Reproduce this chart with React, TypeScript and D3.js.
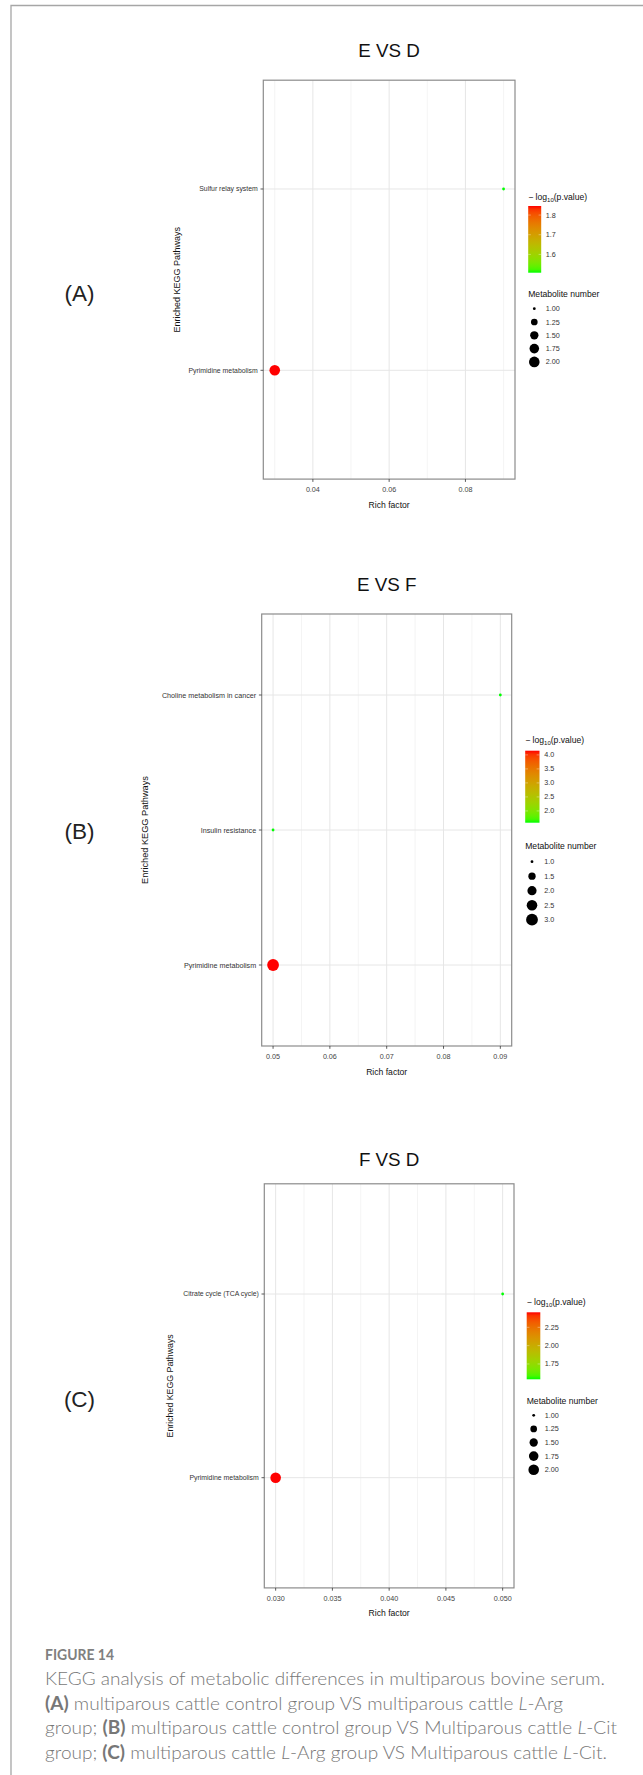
import React from "react";
import * as d3 from "d3";

// ---------------- Data ----------------
const pathwaysA = ["Sulfur relay system", "Pyrimidine metabolism"];
const richFactorA = [0.09, 0.03];
const negLogPA = [1.507, 1.846];
const metaboliteCountA = [1, 2];
const xTicksA = [0.04, 0.06, 0.08];
const xTickLabelsA = ["0.04", "0.06", "0.08"];
const colorTicksA = [1.6, 1.7, 1.8];
const colorTickLabelsA = ["1.6", "1.7", "1.8"];
const sizeBreaksA = [1, 1.25, 1.5, 1.75, 2];
const sizeLabelsA = ["1.00", "1.25", "1.50", "1.75", "2.00"];

const pathwaysB = ["Choline metabolism in cancer", "Insulin resistance", "Pyrimidine metabolism"];
const richFactorB = [0.09, 0.05, 0.05];
const negLogPB = [1.58, 1.58, 4.15];
const metaboliteCountB = [1, 1, 3];
const xTicksB = [0.05, 0.06, 0.07, 0.08, 0.09];
const xTickLabelsB = ["0.05", "0.06", "0.07", "0.08", "0.09"];
const colorTicksB = [2.0, 2.5, 3.0, 3.5, 4.0];
const colorTickLabelsB = ["2.0", "2.5", "3.0", "3.5", "4.0"];
const sizeBreaksB = [1, 1.5, 2, 2.5, 3];
const sizeLabelsB = ["1.0", "1.5", "2.0", "2.5", "3.0"];

const pathwaysC = ["Citrate cycle (TCA cycle)", "Pyrimidine metabolism"];
const richFactorC = [0.05, 0.03];
const negLogPC = [1.541, 2.455];
const metaboliteCountC = [1, 2];
const xTicksC = [0.03, 0.035, 0.04, 0.045, 0.05];
const xTickLabelsC = ["0.030", "0.035", "0.040", "0.045", "0.050"];
const colorTicksC = [1.75, 2.0, 2.25];
const colorTickLabelsC = ["1.75", "2.00", "2.25"];
const sizeBreaksC = [1, 1.25, 1.5, 1.75, 2];
const sizeLabelsC = ["1.00", "1.25", "1.50", "1.75", "2.00"];

const titles = ["E VS D", "E VS F", "F VS D"];
const panelLetters = ["(A)", "(B)", "(C)"];

const FONT = "'Liberation Sans', Arial, Helvetica, sans-serif";
const CAP_FONT = "Lato, 'Open Sans', sans-serif";

type Layout = {
  x0: number; x1: number; y0: number; y1: number;
  titleY: number; ylabX: number; ylabSize: number; catSize: number;
  letterY: number;
  legTitleY: number; barX: number; barW: number; barY0: number; barY1: number;
  sizeTitleY: number; sizeY0: number; sizeStep: number; circX: number; labX: number;
  rmin: number; rmax: number;
};

type PanelProps = {
  id: string;
  title: string;
  letter: string;
  pathways: string[];
  rich: number[];
  negLogP: number[];
  counts: number[];
  xTicks: number[];
  xTickLabels: string[];
  colorTicks: number[];
  colorTickLabels: string[];
  sizeBreaks: number[];
  sizeLabels: string[];
  L: Layout;
};

function Panel(p: PanelProps) {
  const { L } = p;
  const [rMin, rMax] = d3.extent(p.rich) as [number, number];
  const pad = (rMax - rMin) * 0.05;
  const x = d3.scaleLinear().domain([rMin - pad, rMax + pad]).range([L.x0, L.x1]);
  const y = d3.scalePoint<string>().domain(p.pathways).range([L.y0, L.y1]).padding(0.6);
  const [cMin, cMax] = d3.extent(p.negLogP) as [number, number];
  const color = d3
    .scaleLinear<string>()
    .domain([cMin, cMax])
    .range(["#00ff00", "#ff0000"])
    .interpolate(d3.interpolateLab);
  const [sMin, sMax] = d3.extent(p.sizeBreaks) as [number, number];
  const sNorm = d3.scaleLinear().domain([sMin, sMax]).range([0, 1]).clamp(true);
  const radius = (v: number) => L.rmin + (L.rmax - L.rmin) * Math.sqrt(sNorm(v));
  const barScale = d3.scaleLinear().domain([cMin, cMax]).range([L.barY1, L.barY0]);

  const step = p.xTicks[1] - p.xTicks[0];
  const [dLo, dHi] = x.domain();
  const minors: number[] = [];
  for (let i = -1; i < p.xTicks.length; i++) {
    const m = p.xTicks[0] + step * (i + 0.5);
    if (m > dLo && m < dHi) minors.push(m);
  }
  const gradStops = d3.range(0, 1.0001, 0.05);
  const gid = `grad-${p.id}`;
  const cx = (L.x0 + L.x1) / 2;
  const cy = (L.y0 + L.y1) / 2;
  const order = d3.range(p.pathways.length).sort((a, b) => p.counts[a] - p.counts[b]);

  return (
    <g fontFamily={FONT}>
      <defs>
        <linearGradient id={gid} x1="0" y1="1" x2="0" y2="0">
          {gradStops.map((t) => (
            <stop key={t} offset={t} stopColor={color(cMin + t * (cMax - cMin))} />
          ))}
        </linearGradient>
      </defs>
      <text x={cx} y={L.titleY} textAnchor="middle" fontSize={18.8} fill="#111">
        {p.title}
      </text>
      <text x={79.5} y={L.letterY} textAnchor="middle" fontSize={22.5} fill="#222">
        {p.letter}
      </text>
      <rect x={L.x0} y={L.y0} width={L.x1 - L.x0} height={L.y1 - L.y0} fill="#fff" />
      {minors.map((m) => (
        <line key={"mn" + m} x1={x(m)} x2={x(m)} y1={L.y0} y2={L.y1} stroke="#efefef" strokeWidth={0.7} />
      ))}
      {p.xTicks.map((t) => (
        <line key={"mj" + t} x1={x(t)} x2={x(t)} y1={L.y0} y2={L.y1} stroke="#e6e6e6" strokeWidth={1} />
      ))}
      {p.pathways.map((c) => (
        <line key={"h" + c} x1={L.x0} x2={L.x1} y1={y(c)!} y2={y(c)!} stroke="#e6e6e6" strokeWidth={1} />
      ))}
      {order.map((i) => (
        <circle
          key={"pt" + i}
          cx={x(p.rich[i])}
          cy={y(p.pathways[i])!}
          r={radius(p.counts[i])}
          fill={color(p.negLogP[i])}
        />
      ))}
      <rect
        x={L.x0}
        y={L.y0}
        width={L.x1 - L.x0}
        height={L.y1 - L.y0}
        fill="none"
        stroke="#8c8c8c"
        strokeWidth={1.2}
      />
      {p.xTicks.map((t, i) => (
        <g key={"xt" + t}>
          <line x1={x(t)} x2={x(t)} y1={L.y1} y2={L.y1 + 2.8} stroke="#333" strokeWidth={0.8} />
          <text x={x(t)} y={L.y1 + 10.5} dy="0.35em" textAnchor="middle" fontSize={7.2} fill="#444">
            {p.xTickLabels[i]}
          </text>
        </g>
      ))}
      <text x={cx} y={L.y1 + 25.5} dy="0.35em" textAnchor="middle" fontSize={8.6} fill="#111">
        Rich factor
      </text>
      {p.pathways.map((c) => (
        <g key={"yt" + c}>
          <line x1={L.x0 - 2.8} x2={L.x0} y1={y(c)!} y2={y(c)!} stroke="#333" strokeWidth={0.8} />
          <text x={L.x0 - 5.5} y={y(c)!} dy="0.35em" textAnchor="end" fontSize={L.catSize} fill="#333">
            {c}
          </text>
        </g>
      ))}
      <text
        transform={`translate(${L.ylabX},${cy}) rotate(-90)`}
        dy="0.35em"
        textAnchor="middle"
        fontSize={L.ylabSize}
        fill="#111"
      >
        Enriched KEGG Pathways
      </text>
      <text x={L.barX} y={L.legTitleY} dy="0.35em" fontSize={8.6} fill="#111">
        {"\u2212 log"}
        <tspan dy={2} fontSize={6}>10</tspan>
        <tspan dy={-2}>(p.value)</tspan>
      </text>
      <rect x={L.barX} y={L.barY0} width={L.barW} height={L.barY1 - L.barY0} fill={`url(#${gid})`} />
      {p.colorTicks.map((t, i) => (
        <g key={"ct" + t}>
          <line x1={L.barX} x2={L.barX + L.barW / 5} y1={barScale(t)} y2={barScale(t)} stroke="#fff" strokeOpacity={0.6} strokeWidth={0.6} />
          <line x1={L.barX + L.barW} x2={L.barX + L.barW * 0.8} y1={barScale(t)} y2={barScale(t)} stroke="#fff" strokeOpacity={0.6} strokeWidth={0.6} />
          <text x={L.labX} y={barScale(t)} dy="0.35em" fontSize={7.2} fill="#333">
            {p.colorTickLabels[i]}
          </text>
        </g>
      ))}
      <text x={L.barX} y={L.sizeTitleY} dy="0.35em" fontSize={8.6} fill="#111">
        Metabolite number
      </text>
      {p.sizeBreaks.map((s, i) => (
        <g key={"sz" + s}>
          <circle cx={L.circX} cy={L.sizeY0 + i * L.sizeStep} r={radius(s)} fill="#000" />
          <text x={L.labX} y={L.sizeY0 + i * L.sizeStep} dy="0.35em" fontSize={7.2} fill="#333">
            {p.sizeLabels[i]}
          </text>
        </g>
      ))}
    </g>
  );
}

const layoutA: Layout = {
  x0: 263.3, x1: 515, y0: 80.2, y1: 479.1, titleY: 57, ylabX: 177, ylabSize: 9, catSize: 6.9,
  letterY: 300.7, legTitleY: 196.7, barX: 528.2, barW: 13, barY0: 206, barY1: 272.7,
  sizeTitleY: 294.3, sizeY0: 308.7, sizeStep: 13.3, circX: 534.3, labX: 545.7, rmin: 1.4, rmax: 5.3,
};
const layoutB: Layout = {
  x0: 261.7, x1: 511.7, y0: 614, y1: 1046, titleY: 590.5, ylabX: 145, ylabSize: 9.2, catSize: 7.2,
  letterY: 838.5, legTitleY: 739.5, barX: 525.2, barW: 14.3, barY0: 750.7, barY1: 822.7,
  sizeTitleY: 846, sizeY0: 861.7, sizeStep: 14.5, circX: 532, labX: 544.3, rmin: 1.4, rmax: 5.9,
};
const layoutC: Layout = {
  x0: 264.3, x1: 514, y0: 1183.8, y1: 1587.9, titleY: 1166, ylabX: 170, ylabSize: 8.8, catSize: 6.9,
  letterY: 1406.7, legTitleY: 1301.7, barX: 526.7, barW: 13.6, barY0: 1312.3, barY1: 1379.3,
  sizeTitleY: 1400.7, sizeY0: 1415.3, sizeStep: 13.6, circX: 533.7, labX: 544.7, rmin: 1.4, rmax: 5.3,
};

export default function App() {
  return (
    <svg
      width={643}
      height={1775}
      viewBox="0 0 643 1775"
      style={{ position: "absolute", left: 0, top: 0, display: "block", background: "#fff" }}
    >
      <rect x={0} y={0} width={643} height={1775} fill="#fff" />
      <path d="M11,1775 L11,5.5 L643,5.5" fill="none" stroke="#a6a6a6" strokeWidth={1.3} />
      <Panel
        id="A" title={titles[0]} letter={panelLetters[0]}
        pathways={pathwaysA} rich={richFactorA} negLogP={negLogPA} counts={metaboliteCountA}
        xTicks={xTicksA} xTickLabels={xTickLabelsA}
        colorTicks={colorTicksA} colorTickLabels={colorTickLabelsA}
        sizeBreaks={sizeBreaksA} sizeLabels={sizeLabelsA} L={layoutA}
      />
      <Panel
        id="B" title={titles[1]} letter={panelLetters[1]}
        pathways={pathwaysB} rich={richFactorB} negLogP={negLogPB} counts={metaboliteCountB}
        xTicks={xTicksB} xTickLabels={xTickLabelsB}
        colorTicks={colorTicksB} colorTickLabels={colorTickLabelsB}
        sizeBreaks={sizeBreaksB} sizeLabels={sizeLabelsB} L={layoutB}
      />
      <Panel
        id="C" title={titles[2]} letter={panelLetters[2]}
        pathways={pathwaysC} rich={richFactorC} negLogP={negLogPC} counts={metaboliteCountC}
        xTicks={xTicksC} xTickLabels={xTickLabelsC}
        colorTicks={colorTicksC} colorTickLabels={colorTickLabelsC}
        sizeBreaks={sizeBreaksC} sizeLabels={sizeLabelsC} L={layoutC}
      />
      <g fontFamily={CAP_FONT}>
        <text x={45} y={1660} fontSize={16} fontWeight="bold" fill="#808080" textLength={69} lengthAdjust="spacingAndGlyphs">
          FIGURE 14
        </text>
        <text x={45} y={1685} fontSize={18.5} fontWeight={300} fill="#777" textLength={560} lengthAdjust="spacingAndGlyphs">
          KEGG analysis of metabolic differences in multiparous bovine serum.
        </text>
        <text x={45} y={1709.5} fontSize={18.5} fontWeight={300} fill="#777" textLength={518} lengthAdjust="spacingAndGlyphs">
          <tspan fontWeight="bold">(A)</tspan> multiparous cattle control group VS multiparous cattle{" "}
          <tspan fontStyle="italic">L</tspan>-Arg
        </text>
        <text x={45} y={1734} fontSize={18.5} fontWeight={300} fill="#777" textLength={572} lengthAdjust="spacingAndGlyphs">
          group; <tspan fontWeight="bold">(B)</tspan> multiparous cattle control group VS Multiparous cattle{" "}
          <tspan fontStyle="italic">L</tspan>-Cit
        </text>
        <text x={45} y={1758.5} fontSize={18.5} fontWeight={300} fill="#777" textLength={562} lengthAdjust="spacingAndGlyphs">
          group; <tspan fontWeight="bold">(C)</tspan> multiparous cattle <tspan fontStyle="italic">L</tspan>-Arg
          group VS Multiparous cattle <tspan fontStyle="italic">L</tspan>-Cit.
        </text>
      </g>
    </svg>
  );
}
